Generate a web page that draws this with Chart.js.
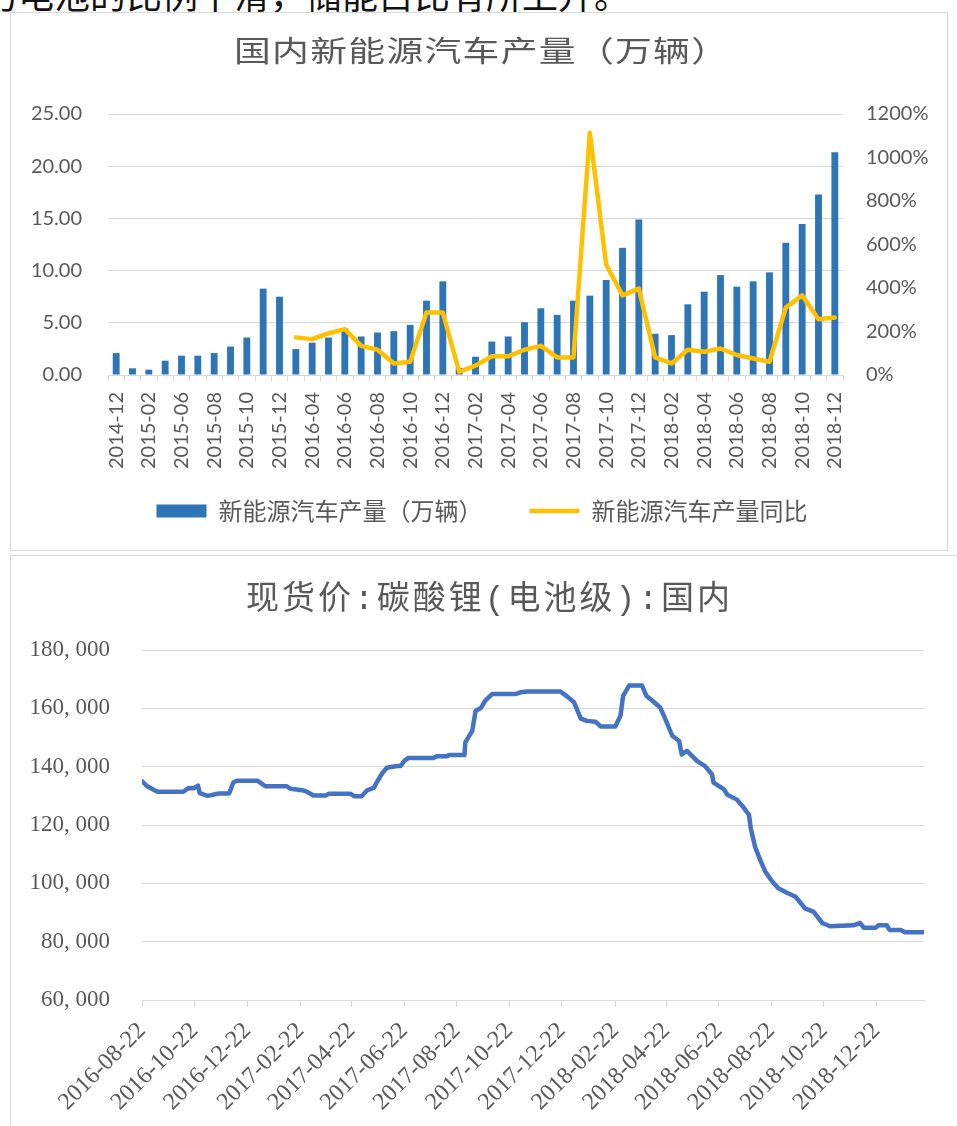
<!DOCTYPE html>
<html>
<head>
<meta charset="utf-8">
<script src="https://cdn.jsdelivr.net/npm/chart.js@4.4.1/dist/chart.umd.min.js"></script>
<style>
  body { margin: 0; background: #fff; width: 957px; height: 1126px; overflow: hidden; position: relative; }
  #lead { position: absolute; left: -54px; top: -25px; font: 36px/36px "Noto Sans CJK SC"; color: #111; white-space: nowrap; }
  .frame { position: absolute; box-sizing: border-box; border: 1px solid #d9d9d9; }
  #f1 { left: 10px; top: 12px; width: 938px; height: 539px; }
  #f2 { left: 10px; top: 555px; width: 1000px; height: 600px; }
  canvas { position: absolute; }
  #c1 { left: 11px; top: 13px; }
  #c2 { left: 11px; top: 556px; }
</style>
</head>
<body>
<div id="lead">动力电池的比例下滑，储能占比有所上升。</div>
<div class="frame" id="f1"></div>
<div class="frame" id="f2"></div>
<canvas id="c1" width="936" height="537"></canvas>
<canvas id="c2" width="946" height="570"></canvas>
<script>
// 国内新能源汽车产量（万辆）
const months = ['2014-12','2015-01','2015-02','2015-03','2015-06','2015-07','2015-08','2015-09','2015-10','2015-11','2015-12',
  '2016-03','2016-04','2016-05','2016-06','2016-07','2016-08','2016-09','2016-10','2016-11','2016-12',
  '2017-01','2017-02','2017-03','2017-04','2017-05','2017-06','2017-07','2017-08','2017-09','2017-10','2017-11','2017-12',
  '2018-01','2018-02','2018-03','2018-04','2018-05','2018-06','2018-07','2018-08','2018-09','2018-10','2018-11','2018-12'];
const output = [2.10, 0.64, 0.51, 1.37, 1.85, 1.85, 2.10, 2.73, 3.59, 8.27, 7.50,
  2.48, 3.10, 3.59, 4.45, 3.69, 4.07, 4.20, 4.80, 7.12, 8.97,
  0.68, 1.75, 3.20, 3.69, 5.06, 6.39, 5.76, 7.12, 7.60, 9.10, 12.18, 14.90,
  3.95, 3.82, 6.77, 7.98, 9.57, 8.46, 8.97, 9.83, 12.66, 14.47, 17.30, 21.34];
// 同比, %
const yoy = [null, null, null, null, null, null, null, null, null, null, null,
  173, 165, 191, 211, 134, 116, 53, 61, 287, 287,
  15, 43, 86, 86, 116, 134, 81, 81, 1114, 508, 366, 397,
  81, 53, 116, 107, 122, 92, 76, 61, 310, 366, 256, 264];

// 现货价:碳酸锂(电池级):国内
const priceDates = ['2016-08-22','2016-08-28','2016-09-05','2016-09-09','2016-10-09','2016-10-15','2016-10-21','2016-10-26','2016-10-28',
  '2016-11-06','2016-11-11','2016-11-19','2016-12-01','2016-12-06','2016-12-10','2017-01-03','2017-01-12','2017-02-06','2017-02-10',
  '2017-02-24','2017-02-28','2017-03-09','2017-03-23','2017-03-27','2017-04-21','2017-04-25','2017-05-04','2017-05-10','2017-05-18',
  '2017-05-22','2017-05-28','2017-06-02','2017-06-14','2017-06-18','2017-06-22','2017-06-27','2017-07-26','2017-07-30','2017-08-11',
  '2017-08-13','2017-08-31','2017-09-01','2017-09-09','2017-09-13','2017-09-19','2017-09-24','2017-10-02','2017-10-29','2017-11-04',
  '2017-11-12','2017-12-20','2017-12-28','2018-01-05','2018-01-13','2018-01-20','2018-01-30','2018-02-05','2018-02-22','2018-02-28',
  '2018-03-03','2018-03-10','2018-03-25','2018-03-30','2018-04-06','2018-04-15','2018-04-21','2018-04-29','2018-05-07','2018-05-10',
  '2018-05-16','2018-05-28','2018-06-06','2018-06-14','2018-06-16','2018-06-28','2018-07-02','2018-07-13','2018-07-21','2018-07-27',
  '2018-07-29','2018-08-03','2018-08-09','2018-08-15','2018-08-23','2018-08-30','2018-09-09','2018-09-19','2018-09-30','2018-10-10',
  '2018-10-20','2018-10-29','2018-11-25','2018-12-03','2018-12-07','2018-12-21','2018-12-24','2019-01-03','2019-01-06','2019-01-19',
  '2019-01-24','2019-02-15'];
const priceValues = [135000, 133300, 132000, 131400, 131400, 132700, 132600, 133500, 130900,
  130000, 130300, 130800, 130800, 134600, 135200, 135200, 133300, 133300, 132400,
  131900, 131600, 130100, 130100, 130700, 130700, 129900, 129900, 131900, 132800,
  135000, 137900, 139600, 140200, 140200, 141900, 143000, 143000, 143600, 143600,
  144000, 144000, 148300, 152300, 159200, 160100, 162600, 164900, 164900, 165500,
  165800, 165800, 164100, 162100, 156500, 155700, 155400, 153800, 153800, 157500,
  164300, 167800, 167800, 164300, 162600, 160300, 156300, 150600, 148800, 144200,
  145400, 141900, 140200, 137400, 134500, 132200, 130400, 128700, 125900, 123500,
  119000, 112600, 108000, 104000, 100600, 98300, 96800, 95400, 91400, 90200,
  86400, 85300, 85600, 86400, 84800, 84800, 85600, 85600, 84000, 84000,
  83200, 83200];
const tickDates = ['2016-08-22','2016-10-22','2016-12-22','2017-02-22','2017-04-22','2017-06-22','2017-08-22','2017-10-22',
  '2017-12-22','2018-02-22','2018-04-22','2018-06-22','2018-08-22','2018-10-22','2018-12-22'];

const dayOf = s => Math.round((Date.parse(s) - Date.parse(priceDates[0])) / 864e5);

Chart.defaults.color = '#595959';
Chart.defaults.animation = false;
Chart.defaults.plugins.tooltip.enabled = false;

// title drawn with letter spacing (and a horizontal stretch), like the Excel look
const spacedTitle = (text, font, spacing, x, y, sx = 1) => ({
  id: 'spacedTitle',
  afterDraw(chart) {
    const ctx = chart.ctx;
    ctx.save();
    ctx.font = font;
    ctx.fillStyle = '#595959';
    ctx.letterSpacing = spacing + 'px';
    ctx.textAlign = 'center';
    ctx.textBaseline = 'middle';
    ctx.translate(x, y);
    ctx.scale(sx, 1);
    ctx.fillText(text, spacing / 2, 0);
    ctx.restore();
  }
});

// legend padding is large (for the gap between items), so move the legend box a bit
const moveLegend = (dx, dy) => ({
  id: 'moveLegend',
  afterLayout(chart) {
    const l = chart.legend;
    l.top -= dy; l.bottom -= dy;
    l.left += dx; l.right += dx;
  }
});

const lato = { family: 'Lato', size: 20 };

new Chart(document.getElementById('c1'), {
  type: 'bar',
  data: {
    labels: months,
    datasets: [{
      type: 'bar',
      label: '新能源汽车产量（万辆）',
      data: output,
      yAxisID: 'y',
      backgroundColor: '#2E75B6',
      barPercentage: 0.42,
      categoryPercentage: 1,
      pointStyle: 'rect',
      order: 1
    }, {
      type: 'line',
      label: '新能源汽车产量同比',
      data: yoy,
      yAxisID: 'y1',
      borderColor: '#FFC000',
      backgroundColor: '#FFC000',
      borderWidth: 4.5,
      pointRadius: 0,
      pointStyle: 'line',
      borderCapStyle: 'round',
      borderJoinStyle: 'round',
      order: 0
    }]
  },
  options: {
    responsive: false,
    layout: { padding: { top: 101, bottom: 0, left: 0, right: 0 } },
    plugins: {
      legend: {
        position: 'bottom',
        maxHeight: 79,
        labels: {
          usePointStyle: true,
          pointStyleWidth: 50,
          boxHeight: 13,
          padding: 47,
          font: { family: 'Noto Sans CJK SC', size: 24 },
          sort: (a, b) => a.datasetIndex - b.datasetIndex
        }
      }
    },
    scales: {
      x: {
        grid: { drawOnChartArea: false, offset: true, tickLength: 6, color: '#d9d9d9' },
        border: { color: '#d9d9d9' },
        ticks: {
          autoSkip: false, minRotation: 90, maxRotation: 90, padding: 11, font: lato,
          callback: (v, i) => i % 2 === 0 ? months[i] : ''
        },
        afterFit: s => { s.height = 96; }
      },
      y: {
        position: 'left', min: 0, max: 25,
        ticks: { stepSize: 5, padding: 26, font: lato, callback: v => v.toFixed(2) },
        grid: { color: '#d9d9d9', drawTicks: false },
        border: { display: false },
        afterFit: s => { s.width = 97; }
      },
      y1: {
        position: 'right', min: 0, max: 1200,
        ticks: { stepSize: 200, padding: 23, font: lato, callback: v => v + '%' },
        grid: { drawOnChartArea: false, drawTicks: false },
        border: { display: false },
        afterFit: s => { s.width = 104; }
      }
    }
  },
  plugins: [
    spacedTitle('国内新能源汽车产量（万辆）', '29px "Noto Sans CJK SC"', 1, 470, 38, 1.27),
    moveLegend(3, 19)
  ]
});

new Chart(document.getElementById('c2'), {
  type: 'line',
  data: {
    datasets: [{
      label: '现货价:碳酸锂(电池级):国内',
      data: priceDates.map((d, i) => ({ x: dayOf(d), y: priceValues[i] })),
      borderColor: '#4472C4',
      borderWidth: 4.5,
      pointRadius: 0,
      tension: 0,
      borderJoinStyle: 'round',
      borderCapStyle: 'round'
    }]
  },
  options: {
    responsive: false,
    layout: { padding: { top: 94, right: 33, left: 0, bottom: 0 } },
    plugins: { legend: { display: false } },
    scales: {
      x: {
        type: 'linear',
        min: 0,
        max: dayOf(priceDates[priceDates.length - 1]),
        afterBuildTicks: s => { s.ticks = tickDates.map(d => ({ value: dayOf(d) })); },
        ticks: {
          autoSkip: false, minRotation: 45, maxRotation: 45, padding: 10,
          font: { family: 'Liberation Serif', size: 24 },
          callback: (v, i) => tickDates[i]
        },
        grid: { drawOnChartArea: false, tickLength: 7, color: '#d9d9d9' },
        border: { color: '#d9d9d9' },
        afterFit: s => { s.height = 126; }
      },
      y: {
        min: 60000, max: 180000,
        ticks: {
          stepSize: 20000, padding: 32,
          font: { family: 'Liberation Serif', size: 23 },
          callback: v => Math.floor(v / 1000) + ', 000'
        },
        grid: { color: '#d9d9d9', drawTicks: false },
        border: { display: false },
        afterFit: s => { s.width = 131; }
      }
    }
  },
  plugins: [spacedTitle('现货价:碳酸锂(电池级):国内', '33px "Liberation Mono", "Noto Sans CJK SC"', 3, 477, 44)]
});
</script>
</body>
</html>
